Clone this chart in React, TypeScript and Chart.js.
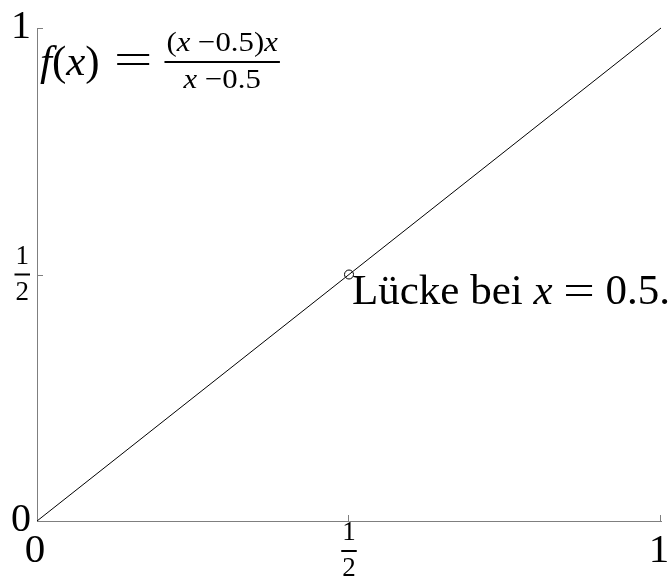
import React, { useEffect, useRef } from "react";
import { Chart, registerables } from "chart.js";

Chart.register(...registerables);

// Graph of f(x) = (x-0.5)x / (x-0.5): the line y = x with a hole at x = 0.5
const lineX = [0, 1];
const lineY = [0, 1];
const gapX = [0.5];
const gapY = [0.5];

// Tick positions and their labels ("n/d" is drawn as a stacked fraction)
const xTickValues = [0, 0.5, 1];
const xTickLabels = ["0", "1/2", "1"];
const yTickValues = [0, 0.5, 1];
const yTickLabels = ["0", "1/2", "1"];

// Annotation at the hole: "Lücke bei x = 0.5."
const annotationWord = "Lücke bei ";
const annotationVar = "x";
const annotationValue = "0.5.";

const SERIF = '"Liberation Serif", "DejaVu Serif", serif';
const AXIS_COLOR = "#7f7f7f";

type Run = { text: string; italic?: boolean; sx?: number };

function setFont(ctx: CanvasRenderingContext2D, r: Run, size: number) {
  ctx.font = `${r.italic ? "italic " : ""}${size}px ${SERIF}`;
}

function runsWidth(ctx: CanvasRenderingContext2D, runs: Run[], size: number) {
  let w = 0;
  for (const r of runs) {
    setFont(ctx, r, size);
    w += ctx.measureText(r.text).width * (r.sx ?? 1);
  }
  return w;
}

function drawRuns(ctx: CanvasRenderingContext2D, runs: Run[], x: number, y: number, size: number) {
  let cx = x;
  ctx.textAlign = "left";
  ctx.textBaseline = "alphabetic";
  for (const r of runs) {
    setFont(ctx, r, size);
    const sx = r.sx ?? 1;
    const w = ctx.measureText(r.text).width;
    ctx.save();
    ctx.translate(cx, y);
    ctx.scale(sx, 1);
    ctx.fillText(r.text, 0, 0);
    ctx.restore();
    cx += w * sx;
  }
  return cx;
}

// Stacked fraction centred on cx, bar at barY
function drawFraction(ctx: CanvasRenderingContext2D, num: Run[], den: Run[], cx: number, barY: number, size: number, barPad = 2) {
  const nw = runsWidth(ctx, num, size);
  const dw = runsWidth(ctx, den, size);
  const bw = Math.max(nw, dw) + barPad * 2;
  ctx.fillRect(cx - bw / 2, barY - 1, bw, 2);
  drawRuns(ctx, num, cx - nw / 2, barY - size * 0.4, size);
  drawRuns(ctx, den, cx - dw / 2, barY + size * 0.93, size);
  return bw;
}

function drawTickLabel(ctx: CanvasRenderingContext2D, label: string, x: number, y: number, align: "center" | "right", size: number, fracSize: number) {
  if (label.includes("/")) {
    const [n, d] = label.split("/");
    ctx.font = `${fracSize}px ${SERIF}`;
    const w = Math.max(ctx.measureText(n).width, ctx.measureText(d).width) + 2;
    const cx = align === "center" ? x : x - w / 2;
    drawFraction(ctx, [{ text: n }], [{ text: d }], cx, y, fracSize, 1);
  } else {
    ctx.font = `${size}px ${SERIF}`;
    ctx.textAlign = align;
    ctx.textBaseline = "alphabetic";
    ctx.fillText(label, x, y);
  }
}

const decorations = {
  id: "mathDecorations",
  afterDraw(chart: Chart) {
    const ctx = chart.ctx;
    const xs = chart.scales.x;
    const ys = chart.scales.y;
    const area = chart.chartArea;
    ctx.save();

    // inward tick marks
    ctx.strokeStyle = AXIS_COLOR;
    ctx.lineWidth = 1;
    ctx.beginPath();
    for (const v of xTickValues) {
      if (v === 0) continue;
      const px = Math.round(xs.getPixelForValue(v)) - 0.5;
      ctx.moveTo(px, area.bottom);
      ctx.lineTo(px, area.bottom - 6);
    }
    for (const v of yTickValues) {
      if (v === 0) continue;
      const py = Math.round(ys.getPixelForValue(v)) + 0.5;
      ctx.moveTo(area.left, py);
      ctx.lineTo(area.left + 6, py);
    }
    ctx.stroke();

    ctx.fillStyle = "#000";
    // x tick labels
    xTickValues.forEach((v, i) => {
      const px = xs.getPixelForValue(v);
      const lab = xTickLabels[i];
      if (lab.includes("/")) drawTickLabel(ctx, lab, px, area.bottom + 30, "center", 40, 27);
      else drawTickLabel(ctx, lab, px - 2, area.bottom + 41, "center", 41, 27);
    });
    // y tick labels
    yTickValues.forEach((v, i) => {
      const py = ys.getPixelForValue(v);
      const lab = yTickLabels[i];
      if (lab.includes("/")) drawTickLabel(ctx, lab, area.left - 7, py, "right", 40, 27);
      else drawTickLabel(ctx, lab, area.left - 6, py + 10, "right", 40, 27);
    });

    // formula in the upper-left corner
    const fx = area.left + 3;
    const fy = area.top + 47;
    let cx = drawRuns(ctx, [
      { text: "f", italic: true },
      { text: "(" },
      { text: "x", italic: true },
      { text: ")" },
    ], fx, fy, 43);
    cx = drawRuns(ctx, [{ text: "=", sx: 1.6 }], cx + 14, fy - 2, 43);
    const s = 1.1;
    const num: Run[] = [
      { text: "(", sx: s },
      { text: "x", italic: true, sx: s },
      { text: " −0.5)", sx: s },
      { text: "x", italic: true, sx: s },
    ];
    const den: Run[] = [
      { text: "x", italic: true, sx: s },
      { text: " −0.5", sx: s },
    ];
    const fracSize = 28;
    const numW = runsWidth(ctx, num, fracSize);
    drawFraction(ctx, num, den, cx + 14 + numW / 2, area.top + 34, fracSize, 2);

    // annotation next to the hole
    const hx = xs.getPixelForValue(gapX[0]);
    const hy = ys.getPixelForValue(gapY[0]);
    drawRuns(ctx, [
      { text: annotationWord },
      { text: annotationVar, italic: true },
      { text: " " },
      { text: "=", sx: 1.3 },
      { text: " " + annotationValue },
    ], hx + 3, hy + 29, 43);

    ctx.restore();
  },
};

export default function App() {
  const canvasRef = useRef<HTMLCanvasElement | null>(null);

  useEffect(() => {
    const canvas = canvasRef.current;
    if (!canvas) return;
    const chart = new Chart(canvas, {
      type: "scatter",
      data: {
        datasets: [
          {
            data: lineX.map((x, i) => ({ x, y: lineY[i] })),
            showLine: true,
            borderColor: "#000",
            borderWidth: 1,
            pointRadius: 0,
            pointHoverRadius: 0,
            clip: false,
          },
          {
            data: gapX.map((x, i) => ({ x, y: gapY[i] })),
            showLine: false,
            borderColor: "#000",
            backgroundColor: "rgba(0,0,0,0)",
            borderWidth: 1,
            pointRadius: 4.5,
            pointHoverRadius: 4.5,
            clip: false,
          },
        ],
      },
      options: {
        responsive: false,
        animation: false,
        devicePixelRatio: 1,
        layout: { padding: { left: 37, right: 8, top: 28, bottom: 57 } },
        plugins: {
          legend: { display: false },
          tooltip: { enabled: false },
        },
        events: [],
        scales: {
          x: {
            type: "linear",
            min: 0,
            max: 1,
            ticks: { display: false },
            grid: { display: false, drawTicks: false },
            border: { display: true, color: AXIS_COLOR, width: 1 },
          },
          y: {
            type: "linear",
            min: 0,
            max: 1,
            ticks: { display: false },
            grid: { display: false, drawTicks: false },
            border: { display: true, color: AXIS_COLOR, width: 1 },
          },
        },
      },
      plugins: [decorations],
    });
    return () => chart.destroy();
  }, []);

  return (
    <div style={{ position: "absolute", left: 0, top: 0, width: 669, height: 578, background: "#fff" }}>
      <canvas ref={canvasRef} width={669} height={578} />
    </div>
  );
}
